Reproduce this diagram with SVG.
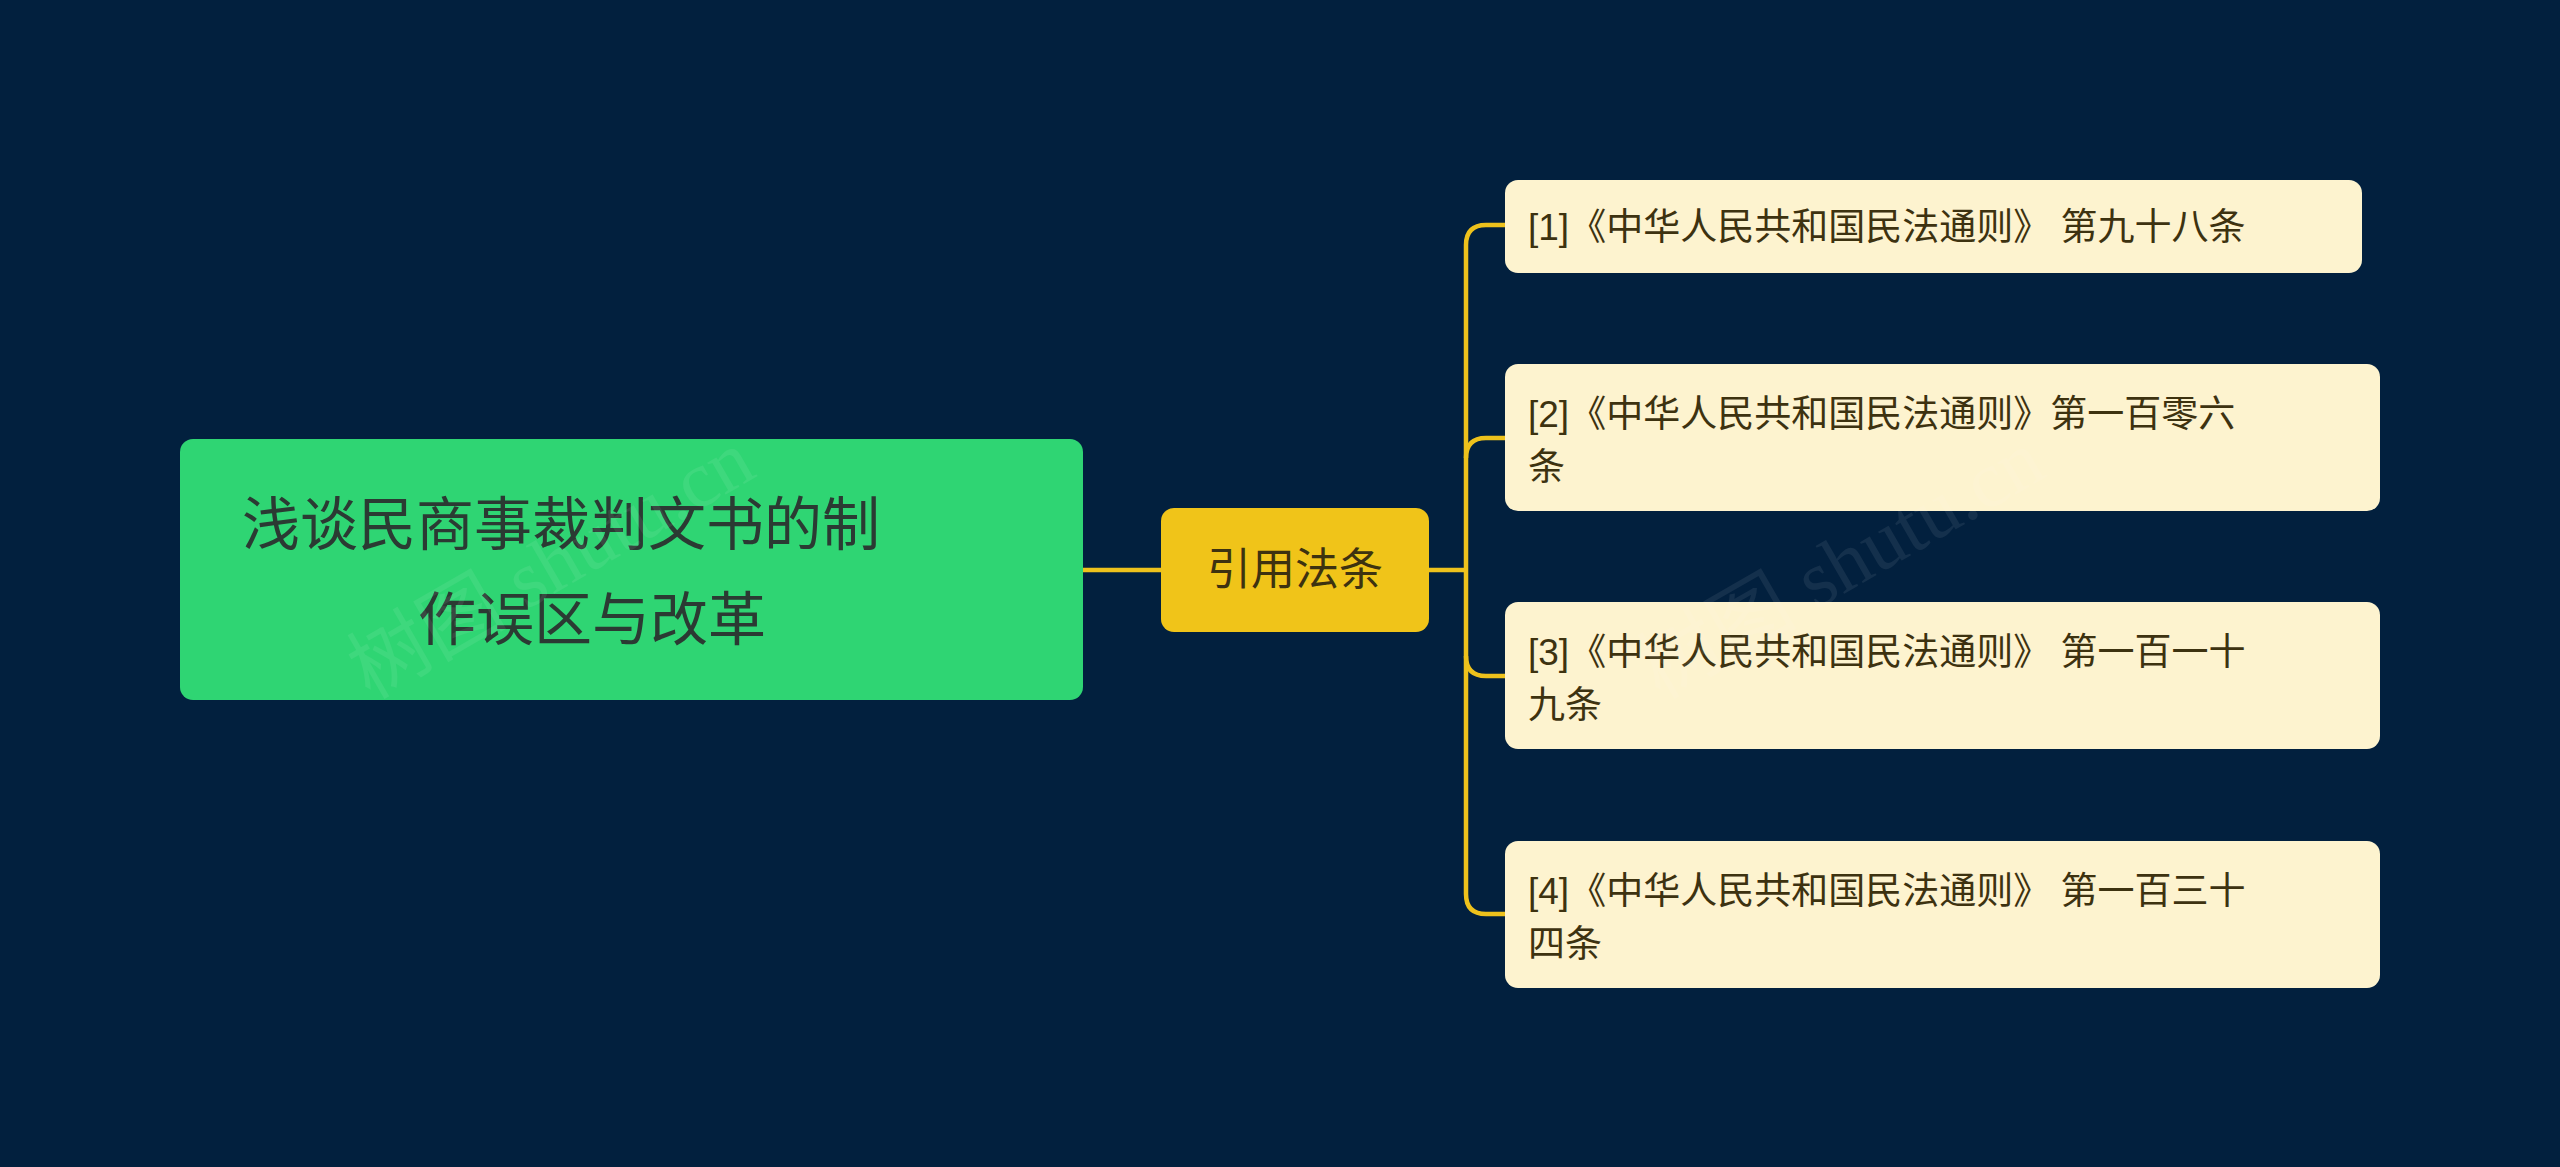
<svg xmlns="http://www.w3.org/2000/svg" width="2560" height="1167" viewBox="0 0 2560 1167">
<style>
.t{font-family:"Liberation Sans","Noto Sans CJK SC",sans-serif}
.leaf{fill:#fdf3cf}
.lt{font-size:37px;fill:#3d3210}
.c{fill:none;stroke:#eec21c;stroke-width:4.5}
.wm{font-family:"Liberation Serif","Noto Sans CJK SC",serif;font-size:80px;fill:#ffffff;opacity:0.07}
</style>
<rect width="2560" height="1167" fill="#02203e"/>
<g id="connectors">
<path class="c" d="M1083 570H1161"/>
<path class="c" d="M1429 570H1466"/>
<path class="c" d="M1505 225H1486Q1466 225 1466 245V894Q1466 914 1486 914H1505"/>
<path class="c" d="M1466 458Q1466 438 1486 438H1505"/>
<path class="c" d="M1466 656Q1466 676 1486 676H1505"/>
</g>
<g id="root">
<rect x="180" y="439" width="903" height="261" rx="13" fill="#2fd573"/>
<text class="t" x="242" y="545" font-size="58" fill="#2b3a33">浅谈民商事裁判文书的制</text>
<text class="t" x="418" y="640" font-size="58" fill="#2b3a33">作误区与改革</text>
</g>
<g id="mid">
<rect x="1161" y="508" width="268" height="124" rx="13" fill="#f0c419"/>
<text class="t" x="1295" y="585" font-size="44" fill="#3d3210" text-anchor="middle">引用法条</text>
</g>
<g id="leaf1">
<rect class="leaf" x="1505" y="180" width="857" height="93" rx="13"/>
<text class="t lt" x="1528" y="240">[1]《中华人民共和国民法通则》 第九十八条</text>
</g>
<g id="leaf2">
<rect class="leaf" x="1505" y="364" width="875" height="147" rx="13"/>
<text class="t lt" x="1528" y="427">[2]《中华人民共和国民法通则》第一百零六</text>
<text class="t lt" x="1528" y="480">条</text>
</g>
<g id="leaf3">
<rect class="leaf" x="1505" y="602" width="875" height="147" rx="13"/>
<text class="t lt" x="1528" y="665">[3]《中华人民共和国民法通则》 第一百一十</text>
<text class="t lt" x="1528" y="718">九条</text>
</g>
<g id="leaf4">
<rect class="leaf" x="1505" y="841" width="875" height="147" rx="13"/>
<text class="t lt" x="1528" y="904">[4]《中华人民共和国民法通则》 第一百三十</text>
<text class="t lt" x="1528" y="957">四条</text>
</g>
<text class="wm" transform="translate(370 700) rotate(-30)">树图 shutu.cn</text>
<text class="wm" transform="translate(1660 700) rotate(-30)">树图 shutu.cn</text>
</svg>
